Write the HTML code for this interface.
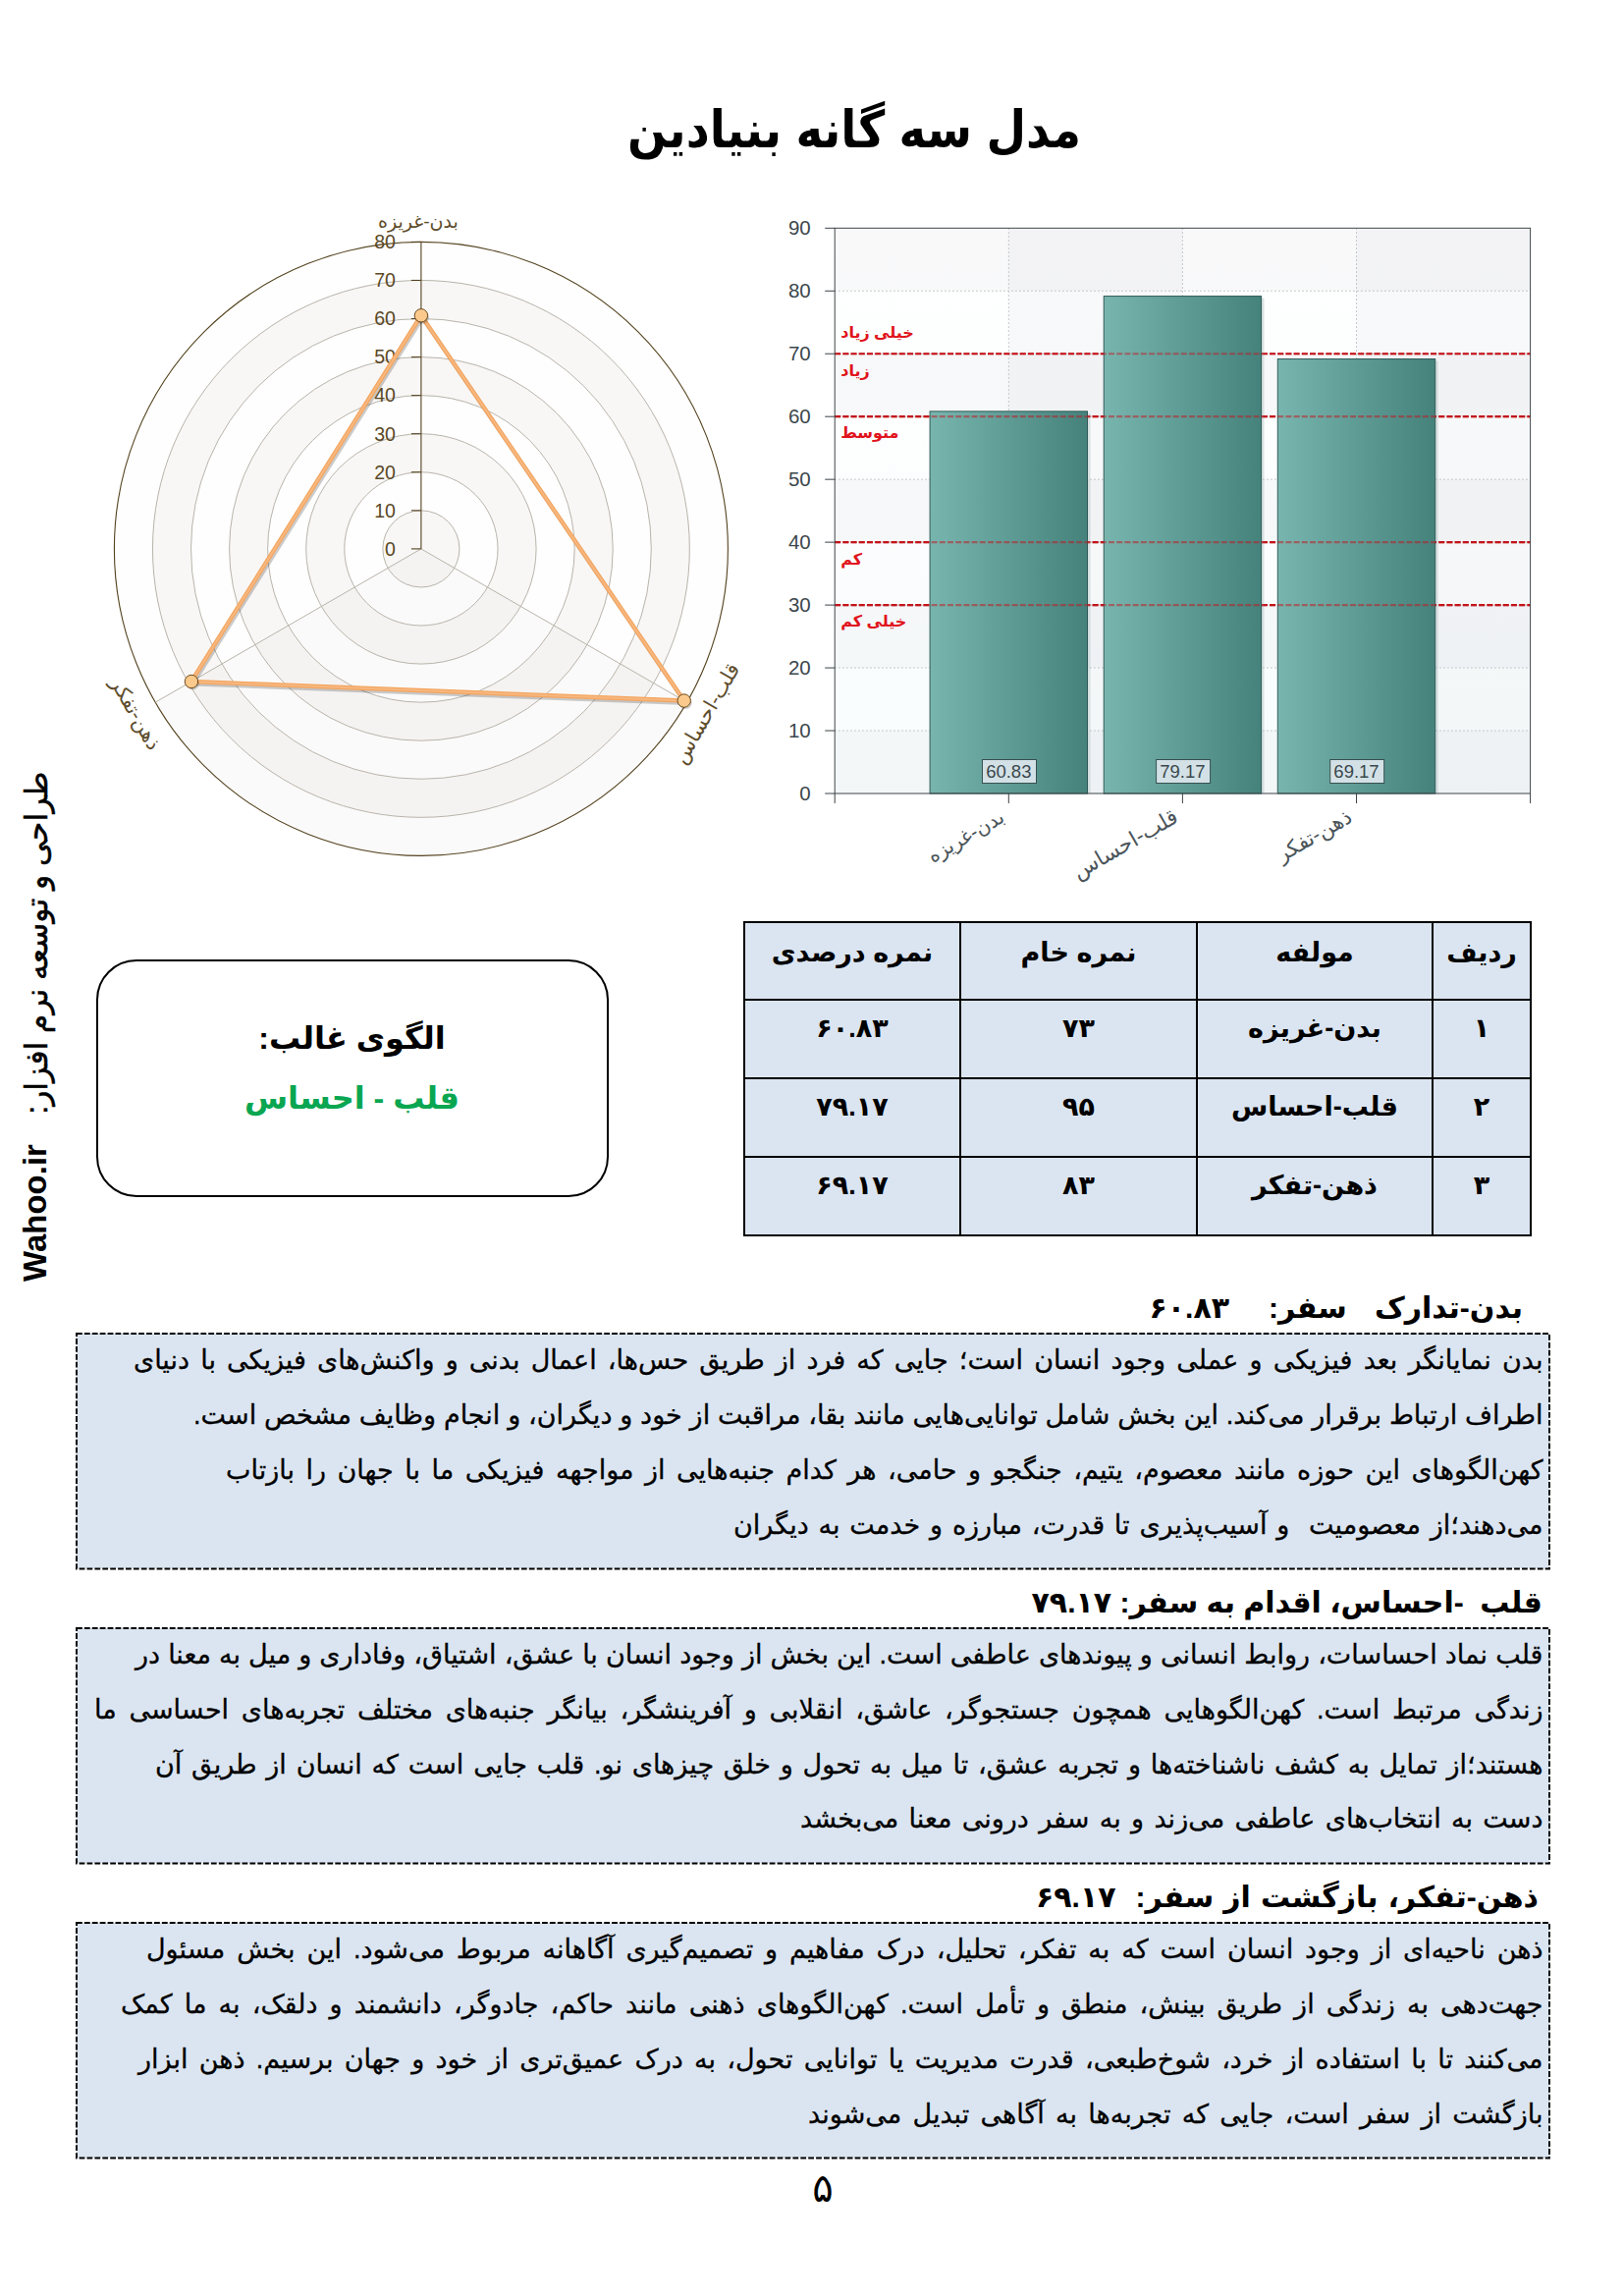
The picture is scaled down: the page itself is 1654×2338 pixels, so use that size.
<!DOCTYPE html><html lang="fa"><head><meta charset="utf-8"><title>مدل سه گانه بنیادین</title><style>
*{margin:0;padding:0;box-sizing:border-box}
html,body{width:1654px;height:2338px;background:#fff;overflow:hidden}
body{position:relative;font-family:"Liberation Sans","DejaVu Sans",sans-serif;color:#000}
.abs{position:absolute}
.title{left:0;width:1740px;top:92px;text-align:center;font-weight:bold;font-size:52px;font-stretch:condensed;line-height:80px;direction:rtl;white-space:nowrap}
svg{position:absolute;left:0;top:0;overflow:visible}
.tbl{position:absolute;left:757px;top:938px;width:803px;border-collapse:collapse;direction:rtl;table-layout:fixed}
.tbl td{border:2px solid #000;background:#dbe5f1;text-align:center;vertical-align:middle;font-weight:bold;font-size:27px;white-space:nowrap;padding:0 0 17px 0}
.tbl tr.d td{padding-bottom:23px;height:80px}
.tbl tr.h td{height:79px}
.rbox{left:97.5px;top:977px;width:522px;height:242px;border:2px solid #000;border-radius:41px;background:#fff;text-align:center;direction:rtl;font-weight:bold}
.rbox .l1{position:absolute;left:0;right:0;top:53px;font-size:32px;line-height:50px}
.rbox .l2{position:absolute;left:0;right:0;top:114px;font-size:32px;line-height:50px;color:#0aa651}
.vert{left:38px;top:1048px;width:0;height:0}
.vert span{position:absolute;white-space:nowrap;direction:rtl;transform-origin:0 0;transform:translate(-50%,-50%) rotate(-90deg)}
.vt{display:block;position:absolute;left:0;top:0;white-space:nowrap;direction:rtl;font-weight:bold;transform:translate(-50%,-50%) rotate(-90deg)}
.sec{left:78px;width:1500px;height:239.5px;background:#dbe5f1}
.sec svg{left:-2px;top:-2px}
.ln{position:absolute;right:4px;direction:rtl;white-space:nowrap;font-size:27px;line-height:54px;height:54px;text-align:justify;text-align-last:justify;-webkit-text-stroke:0.3px #000}
.ln.last{text-align:right;text-align-last:right}
.hd{position:absolute;direction:rtl;white-space:nowrap;font-weight:bold;font-size:30px;line-height:50px;height:50px;text-align:justify;text-align-last:justify}
.pn{left:818px;width:40px;top:2203px;text-align:center;font-size:40px;line-height:50px}
</style></head><body>
<div class="abs title">مدل سه گانه بنیادین</div>
<svg width="1654" height="2338" viewBox="0 0 1654 2338">
<defs>
<linearGradient id="bar" x1="0" y1="0" x2="1" y2="0"><stop offset="0" stop-color="#79b5af"/><stop offset="1" stop-color="#45827c"/></linearGradient>
<linearGradient id="pbg" x1="0" y1="0" x2="0" y2="1"><stop offset="0" stop-color="#bfe3e8" stop-opacity="0"/><stop offset="1" stop-color="#bfe3e8" stop-opacity="0.10"/></linearGradient>
<clipPath id="rc"><circle cx="428.9" cy="558.9" r="312.5"/></clipPath>
</defs>
<g>
<circle cx="428.9" cy="558.9" r="312.5" fill="#fefefe"/>
<circle cx="428.9" cy="558.9" r="312.50" fill="#fefefe"/>
<circle cx="428.9" cy="558.9" r="273.44" fill="#f8f7f6"/>
<circle cx="428.9" cy="558.9" r="234.38" fill="#fefefe"/>
<circle cx="428.9" cy="558.9" r="195.31" fill="#f8f7f6"/>
<circle cx="428.9" cy="558.9" r="156.25" fill="#fefefe"/>
<circle cx="428.9" cy="558.9" r="117.19" fill="#f8f7f6"/>
<circle cx="428.9" cy="558.9" r="78.12" fill="#fefefe"/>
<circle cx="428.9" cy="558.9" r="39.06" fill="#f8f7f6"/>
<path d="M428.9,558.9 L699.53,715.15 A312.5,312.5 0 0 1 158.27,715.15 Z" fill="#8a7a60" fill-opacity="0.028"/>
<circle cx="428.9" cy="558.9" r="39.06" fill="none" stroke="#b9b4aa" stroke-width="1"/>
<circle cx="428.9" cy="558.9" r="78.12" fill="none" stroke="#b9b4aa" stroke-width="1"/>
<circle cx="428.9" cy="558.9" r="117.19" fill="none" stroke="#b9b4aa" stroke-width="1"/>
<circle cx="428.9" cy="558.9" r="156.25" fill="none" stroke="#b9b4aa" stroke-width="1"/>
<circle cx="428.9" cy="558.9" r="195.31" fill="none" stroke="#b9b4aa" stroke-width="1"/>
<circle cx="428.9" cy="558.9" r="234.38" fill="none" stroke="#b9b4aa" stroke-width="1"/>
<circle cx="428.9" cy="558.9" r="273.44" fill="none" stroke="#b9b4aa" stroke-width="1"/>
<circle cx="428.9" cy="558.9" r="312.5" fill="none" stroke="#54431f" stroke-width="1.1"/>
<line x1="428.9" y1="558.9" x2="699.53" y2="715.15" stroke="#b9b4aa" stroke-width="1"/>
<line x1="428.9" y1="558.9" x2="158.27" y2="715.15" stroke="#b9b4aa" stroke-width="1"/>
<line x1="428.9" y1="558.9" x2="428.9" y2="246.39999999999998" stroke="#54431f" stroke-width="1.1"/>
<line x1="418.9" y1="558.90" x2="428.9" y2="558.90" stroke="#54431f" stroke-width="1.1"/>
<text x="402.9" y="565.70" text-anchor="end" font-size="19.5" fill="#5a4826" font-family='"Liberation Sans",sans-serif'>0</text>
<line x1="418.9" y1="519.84" x2="428.9" y2="519.84" stroke="#54431f" stroke-width="1.1"/>
<text x="402.9" y="526.64" text-anchor="end" font-size="19.5" fill="#5a4826" font-family='"Liberation Sans",sans-serif'>10</text>
<line x1="418.9" y1="480.77" x2="428.9" y2="480.77" stroke="#54431f" stroke-width="1.1"/>
<text x="402.9" y="487.57" text-anchor="end" font-size="19.5" fill="#5a4826" font-family='"Liberation Sans",sans-serif'>20</text>
<line x1="418.9" y1="441.71" x2="428.9" y2="441.71" stroke="#54431f" stroke-width="1.1"/>
<text x="402.9" y="448.51" text-anchor="end" font-size="19.5" fill="#5a4826" font-family='"Liberation Sans",sans-serif'>30</text>
<line x1="418.9" y1="402.65" x2="428.9" y2="402.65" stroke="#54431f" stroke-width="1.1"/>
<text x="402.9" y="409.45" text-anchor="end" font-size="19.5" fill="#5a4826" font-family='"Liberation Sans",sans-serif'>40</text>
<line x1="418.9" y1="363.59" x2="428.9" y2="363.59" stroke="#54431f" stroke-width="1.1"/>
<text x="402.9" y="370.39" text-anchor="end" font-size="19.5" fill="#5a4826" font-family='"Liberation Sans",sans-serif'>50</text>
<line x1="418.9" y1="324.52" x2="428.9" y2="324.52" stroke="#54431f" stroke-width="1.1"/>
<text x="402.9" y="331.32" text-anchor="end" font-size="19.5" fill="#5a4826" font-family='"Liberation Sans",sans-serif'>60</text>
<line x1="418.9" y1="285.46" x2="428.9" y2="285.46" stroke="#54431f" stroke-width="1.1"/>
<text x="402.9" y="292.26" text-anchor="end" font-size="19.5" fill="#5a4826" font-family='"Liberation Sans",sans-serif'>70</text>
<line x1="418.9" y1="246.40" x2="428.9" y2="246.40" stroke="#54431f" stroke-width="1.1"/>
<text x="402.9" y="253.20" text-anchor="end" font-size="19.5" fill="#5a4826" font-family='"Liberation Sans",sans-serif'>80</text>
<polygon points="428.90,321.28 696.73,713.53 194.90,694.00" fill="none" stroke="#000" stroke-opacity="0.2" stroke-width="4" stroke-linejoin="round" transform="translate(1.5,2.5)"/>
<polygon points="428.90,321.28 696.73,713.53 194.90,694.00" fill="none" stroke="#f3a661" stroke-width="4.4" stroke-linejoin="round"/>
<polygon points="428.90,321.28 696.73,713.53 194.90,694.00" fill="none" stroke="#f7b77f" stroke-width="2" stroke-linejoin="round"/>
<circle cx="430.40" cy="323.28" r="6.5" fill="#000" fill-opacity="0.18"/>
<circle cx="428.90" cy="321.28" r="6.7" fill="#fbc98b" stroke="#6b4a1e" stroke-width="1"/>
<circle cx="698.23" cy="715.53" r="6.5" fill="#000" fill-opacity="0.18"/>
<circle cx="696.73" cy="713.53" r="6.7" fill="#fbc98b" stroke="#6b4a1e" stroke-width="1"/>
<circle cx="196.40" cy="696.00" r="6.5" fill="#000" fill-opacity="0.18"/>
<circle cx="194.90" cy="694.00" r="6.7" fill="#fbc98b" stroke="#6b4a1e" stroke-width="1"/>
<text x="425.9" y="232" text-anchor="middle" font-size="19" fill="#5e4d2c" direction="rtl" font-family='"Liberation Sans","DejaVu Sans",sans-serif'>بدن-غریزه</text>
<text transform="translate(720.3,727.1) rotate(-60)" x="0" y="6" text-anchor="middle" font-size="21" fill="#5e4d2c" direction="rtl" font-family='"Liberation Sans","DejaVu Sans",sans-serif'>قلب-احساس</text>
<text transform="translate(137.5,727.2) rotate(60)" x="0" y="6" text-anchor="middle" font-size="20.5" fill="#5e4d2c" direction="rtl" font-family='"Liberation Sans","DejaVu Sans",sans-serif'>ذهن-تفکر</text>
</g>
<g>
<rect x="850.2" y="232.3" width="708.40" height="575.70" fill="#fff"/>
<rect x="850.2" y="744.03" width="708.40" height="63.97" fill="#5f7074" fill-opacity="0.038"/>
<rect x="850.2" y="616.10" width="708.40" height="63.97" fill="#5f7074" fill-opacity="0.038"/>
<rect x="850.2" y="488.17" width="708.40" height="63.97" fill="#5f7074" fill-opacity="0.038"/>
<rect x="850.2" y="360.23" width="708.40" height="63.97" fill="#5f7074" fill-opacity="0.038"/>
<rect x="850.2" y="232.30" width="708.40" height="63.97" fill="#5f7074" fill-opacity="0.038"/>
<rect x="1027.30" y="232.3" width="177.10" height="575.70" fill="#5f7074" fill-opacity="0.038"/>
<rect x="1381.50" y="232.3" width="177.10" height="575.70" fill="#5f7074" fill-opacity="0.038"/>
<rect x="850.2" y="232.3" width="708.40" height="575.70" fill="url(#pbg)"/>
<line x1="850.2" y1="744.03" x2="1558.6" y2="744.03" stroke="#b4b9bb" stroke-width="1" stroke-dasharray="1.5,2.5"/>
<line x1="850.2" y1="680.07" x2="1558.6" y2="680.07" stroke="#b4b9bb" stroke-width="1" stroke-dasharray="1.5,2.5"/>
<line x1="850.2" y1="616.10" x2="1558.6" y2="616.10" stroke="#b4b9bb" stroke-width="1" stroke-dasharray="1.5,2.5"/>
<line x1="850.2" y1="552.13" x2="1558.6" y2="552.13" stroke="#b4b9bb" stroke-width="1" stroke-dasharray="1.5,2.5"/>
<line x1="850.2" y1="488.17" x2="1558.6" y2="488.17" stroke="#b4b9bb" stroke-width="1" stroke-dasharray="1.5,2.5"/>
<line x1="850.2" y1="424.20" x2="1558.6" y2="424.20" stroke="#b4b9bb" stroke-width="1" stroke-dasharray="1.5,2.5"/>
<line x1="850.2" y1="360.23" x2="1558.6" y2="360.23" stroke="#b4b9bb" stroke-width="1" stroke-dasharray="1.5,2.5"/>
<line x1="850.2" y1="296.27" x2="1558.6" y2="296.27" stroke="#b4b9bb" stroke-width="1" stroke-dasharray="1.5,2.5"/>
<line x1="1027.30" y1="232.3" x2="1027.30" y2="808.0" stroke="#b4b9bb" stroke-width="1" stroke-dasharray="1.5,2.5"/>
<line x1="1204.40" y1="232.3" x2="1204.40" y2="808.0" stroke="#b4b9bb" stroke-width="1" stroke-dasharray="1.5,2.5"/>
<line x1="1381.50" y1="232.3" x2="1381.50" y2="808.0" stroke="#b4b9bb" stroke-width="1" stroke-dasharray="1.5,2.5"/>
<line x1="850.2" y1="360.23" x2="1558.6" y2="360.23" stroke="#c3141b" stroke-width="2.2" stroke-dasharray="6,2.2" stroke-opacity="1"/>
<line x1="850.2" y1="424.20" x2="1558.6" y2="424.20" stroke="#c3141b" stroke-width="2.2" stroke-dasharray="6,2.2" stroke-opacity="1"/>
<line x1="850.2" y1="552.13" x2="1558.6" y2="552.13" stroke="#c3141b" stroke-width="2.2" stroke-dasharray="6,2.2" stroke-opacity="1"/>
<line x1="850.2" y1="616.10" x2="1558.6" y2="616.10" stroke="#c3141b" stroke-width="2.2" stroke-dasharray="6,2.2" stroke-opacity="1"/>
<rect x="950.10" y="420.89" width="160.40" height="387.11" fill="#9fb5b5" fill-opacity="0.35"/>
<rect x="947.10" y="418.89" width="160.40" height="389.11" fill="url(#bar)" stroke="#2f5a57" stroke-width="1"/>
<rect x="1127.20" y="303.58" width="160.40" height="504.42" fill="#9fb5b5" fill-opacity="0.35"/>
<rect x="1124.20" y="301.58" width="160.40" height="506.42" fill="url(#bar)" stroke="#2f5a57" stroke-width="1"/>
<rect x="1304.30" y="367.54" width="160.40" height="440.46" fill="#9fb5b5" fill-opacity="0.35"/>
<rect x="1301.30" y="365.54" width="160.40" height="442.46" fill="url(#bar)" stroke="#2f5a57" stroke-width="1"/>
<line x1="850.2" y1="360.23" x2="1558.6" y2="360.23" stroke="#c3141b" stroke-width="2.2" stroke-dasharray="6,2.2" stroke-opacity="0.5"/>
<line x1="850.2" y1="424.20" x2="1558.6" y2="424.20" stroke="#c3141b" stroke-width="2.2" stroke-dasharray="6,2.2" stroke-opacity="0.5"/>
<line x1="850.2" y1="552.13" x2="1558.6" y2="552.13" stroke="#c3141b" stroke-width="2.2" stroke-dasharray="6,2.2" stroke-opacity="0.5"/>
<line x1="850.2" y1="616.10" x2="1558.6" y2="616.10" stroke="#c3141b" stroke-width="2.2" stroke-dasharray="6,2.2" stroke-opacity="0.5"/>
<rect x="850.2" y="232.3" width="708.40" height="575.70" fill="none" stroke="#3f4548" stroke-width="1"/>
<line x1="840.2" y1="808.00" x2="850.2" y2="808.00" stroke="#3c4246" stroke-width="1"/>
<text x="825.7" y="814.50" text-anchor="end" font-size="20.5" fill="#3c474d" font-family='"Liberation Sans",sans-serif'>0</text>
<line x1="840.2" y1="744.03" x2="850.2" y2="744.03" stroke="#3c4246" stroke-width="1"/>
<text x="825.7" y="750.53" text-anchor="end" font-size="20.5" fill="#3c474d" font-family='"Liberation Sans",sans-serif'>10</text>
<line x1="840.2" y1="680.07" x2="850.2" y2="680.07" stroke="#3c4246" stroke-width="1"/>
<text x="825.7" y="686.57" text-anchor="end" font-size="20.5" fill="#3c474d" font-family='"Liberation Sans",sans-serif'>20</text>
<line x1="840.2" y1="616.10" x2="850.2" y2="616.10" stroke="#3c4246" stroke-width="1"/>
<text x="825.7" y="622.60" text-anchor="end" font-size="20.5" fill="#3c474d" font-family='"Liberation Sans",sans-serif'>30</text>
<line x1="840.2" y1="552.13" x2="850.2" y2="552.13" stroke="#3c4246" stroke-width="1"/>
<text x="825.7" y="558.63" text-anchor="end" font-size="20.5" fill="#3c474d" font-family='"Liberation Sans",sans-serif'>40</text>
<line x1="840.2" y1="488.17" x2="850.2" y2="488.17" stroke="#3c4246" stroke-width="1"/>
<text x="825.7" y="494.67" text-anchor="end" font-size="20.5" fill="#3c474d" font-family='"Liberation Sans",sans-serif'>50</text>
<line x1="840.2" y1="424.20" x2="850.2" y2="424.20" stroke="#3c4246" stroke-width="1"/>
<text x="825.7" y="430.70" text-anchor="end" font-size="20.5" fill="#3c474d" font-family='"Liberation Sans",sans-serif'>60</text>
<line x1="840.2" y1="360.23" x2="850.2" y2="360.23" stroke="#3c4246" stroke-width="1"/>
<text x="825.7" y="366.73" text-anchor="end" font-size="20.5" fill="#3c474d" font-family='"Liberation Sans",sans-serif'>70</text>
<line x1="840.2" y1="296.27" x2="850.2" y2="296.27" stroke="#3c4246" stroke-width="1"/>
<text x="825.7" y="302.77" text-anchor="end" font-size="20.5" fill="#3c474d" font-family='"Liberation Sans",sans-serif'>80</text>
<line x1="840.2" y1="232.30" x2="850.2" y2="232.30" stroke="#3c4246" stroke-width="1"/>
<text x="825.7" y="238.80" text-anchor="end" font-size="20.5" fill="#3c474d" font-family='"Liberation Sans",sans-serif'>90</text>
<line x1="850.20" y1="808.0" x2="850.20" y2="818.0" stroke="#3c4246" stroke-width="1"/>
<line x1="1027.30" y1="808.0" x2="1027.30" y2="818.0" stroke="#3c4246" stroke-width="1"/>
<line x1="1204.40" y1="808.0" x2="1204.40" y2="818.0" stroke="#3c4246" stroke-width="1"/>
<line x1="1381.50" y1="808.0" x2="1381.50" y2="818.0" stroke="#3c4246" stroke-width="1"/>
<line x1="1558.60" y1="808.0" x2="1558.60" y2="818.0" stroke="#3c4246" stroke-width="1"/>
<text x="856.2" y="344.23" text-anchor="end" direction="rtl" font-size="16" font-weight="bold" fill="#e0141c" font-family='"Liberation Sans","DejaVu Sans",sans-serif'>خیلی زیاد</text>
<text x="856.2" y="383.23" text-anchor="end" direction="rtl" font-size="16" font-weight="bold" fill="#e0141c" font-family='"Liberation Sans","DejaVu Sans",sans-serif'>زیاد</text>
<text x="856.2" y="446.20" text-anchor="end" direction="rtl" font-size="16" font-weight="bold" fill="#e0141c" font-family='"Liberation Sans","DejaVu Sans",sans-serif'>متوسط</text>
<text x="856.2" y="575.13" text-anchor="end" direction="rtl" font-size="16" font-weight="bold" fill="#e0141c" font-family='"Liberation Sans","DejaVu Sans",sans-serif'>کم</text>
<text x="856.2" y="638.10" text-anchor="end" direction="rtl" font-size="16" font-weight="bold" fill="#e0141c" font-family='"Liberation Sans","DejaVu Sans",sans-serif'>خیلی کم</text>
<rect x="1000.50" y="773.5" width="55" height="24" fill="#d3e1e6" stroke="#37504f" stroke-width="1"/>
<text x="1027.30" y="792" text-anchor="middle" font-size="18.5" fill="#3a484d" font-family='"Liberation Sans",sans-serif'>60.83</text>
<rect x="1177.60" y="773.5" width="55" height="24" fill="#d3e1e6" stroke="#37504f" stroke-width="1"/>
<text x="1204.40" y="792" text-anchor="middle" font-size="18.5" fill="#3a484d" font-family='"Liberation Sans",sans-serif'>79.17</text>
<rect x="1354.70" y="773.5" width="55" height="24" fill="#d3e1e6" stroke="#37504f" stroke-width="1"/>
<text x="1381.50" y="792" text-anchor="middle" font-size="18.5" fill="#3a484d" font-family='"Liberation Sans",sans-serif'>69.17</text>
<text transform="translate(1024.30,836.0) rotate(-30)" x="0" y="0" text-anchor="start" direction="rtl" font-size="20" fill="#4b555a" font-family='"Liberation Sans","DejaVu Sans",sans-serif'>بدن-غریزه</text>
<text transform="translate(1201.40,836.0) rotate(-30)" x="0" y="0" text-anchor="start" direction="rtl" font-size="22" fill="#4b555a" font-family='"Liberation Sans","DejaVu Sans",sans-serif'>قلب-احساس</text>
<text transform="translate(1378.50,836.0) rotate(-30)" x="0" y="0" text-anchor="start" direction="rtl" font-size="21.3" fill="#4b555a" font-family='"Liberation Sans","DejaVu Sans",sans-serif'>ذهن-تفکر</text>
</g>
</svg>
<table class="tbl"><colgroup><col style="width:100px"><col style="width:240px"><col style="width:241px"><col style="width:220px"></colgroup><tr class="h"><td>ردیف</td><td>مولفه</td><td>نمره خام</td><td>نمره درصدی</td></tr><tr class="d"><td>۱</td><td>بدن-غریزه</td><td>۷۳</td><td>۶۰.۸۳</td></tr><tr class="d"><td>۲</td><td>قلب-احساس</td><td>۹۵</td><td>۷۹.۱۷</td></tr><tr class="d"><td>۳</td><td>ذهن-تفکر</td><td>۸۳</td><td>۶۹.۱۷</td></tr></table>
<div class="abs rbox"><div class="l1">الگوی غالب:</div><div class="l2">قلب - احساس</div></div>
<div class="abs" style="left:36.5px;top:960px;width:0;height:0"><span class="vt" style="font-size:31.4px;font-weight:normal;-webkit-text-stroke:0.5px #000">طراحی و توسعه نرم افزار:</span></div>
<div class="abs" style="left:36px;top:1235px;width:0;height:0"><span class="vt" style="font-size:33px;font-family:'Liberation Sans',sans-serif;direction:ltr">Wahoo.ir</span></div>
<div class="hd" style="right:103px;width:259px;top:1306.8px">بدن-تدارک سفر:</div>
<div class="hd" style="right:402px;width:81px;top:1306.8px">۶۰.۸۳</div>
<div class="abs sec" style="top:1357.8px"><svg width="1504" height="244" viewBox="-2 -2 1504 244"><rect x="0" y="0" width="1500" height="239.5" fill="none" stroke="#000" stroke-width="1.9" stroke-dasharray="5.8,2.1"/></svg>
<div class="ln" style="top:0.4px;right:6.5px;width:1435.5px;">بدن نمایانگر بعد فیزیکی و عملی وجود انسان است؛ جایی که فرد از طریق حس‌ها، اعمال بدنی و واکنش‌های فیزیکی با دنیای</div>
<div class="ln" style="top:56.2px;right:6.5px;width:1374.5px;">اطراف ارتباط برقرار می‌کند. این بخش شامل توانایی‌هایی مانند بقا، مراقبت از خود و دیگران، و انجام وظایف مشخص است.</div>
<div class="ln" style="top:112.0px;right:6.5px;width:1341.5px;">کهن‌الگوهای این حوزه مانند معصوم، یتیم، جنگجو و حامی، هر کدام جنبه‌هایی از مواجهه فیزیکی ما با جهان را بازتاب</div>
<div class="ln" style="top:167.8px;right:6.5px;width:824.5px;">می‌دهند؛از معصومیت&nbsp; و آسیب‌پذیری تا قدرت، مبارزه و خدمت به دیگران</div>
</div>
<div class="hd" style="right:83px;width:516px;top:1606.6px">قلب&nbsp; -احساس، اقدام به سفر: ۷۹.۱۷</div>
<div class="abs sec" style="top:1657.6px"><svg width="1504" height="244" viewBox="-2 -2 1504 244"><rect x="0" y="0" width="1500" height="239.5" fill="none" stroke="#000" stroke-width="1.9" stroke-dasharray="5.8,2.1"/></svg>
<div class="ln" style="top:0.4px;right:6.5px;width:1433.5px;">قلب نماد احساسات، روابط انسانی و پیوندهای عاطفی است. این بخش از وجود انسان با عشق، اشتیاق، وفاداری و میل به معنا در</div>
<div class="ln" style="top:56.2px;right:6.5px;width:1475.5px;">زندگی مرتبط است. کهن‌الگوهایی همچون جستجوگر، عاشق، انقلابی و آفرینشگر، بیانگر جنبه‌های مختلف تجربه‌های احساسی ما</div>
<div class="ln" style="top:112.0px;right:6.5px;width:1413.5px;">هستند؛از تمایل به کشف ناشناخته‌ها و تجربه عشق، تا میل به تحول و خلق چیزهای نو. قلب جایی است که انسان از طریق آن</div>
<div class="ln" style="top:167.8px;right:6.5px;width:756.5px;">دست به انتخاب‌های عاطفی می‌زند و به سفر درونی معنا می‌بخشد</div>
</div>
<div class="hd" style="right:87px;width:512px;top:1906.8px">ذهن-تفکر، بازگشت از سفر:&nbsp; ۶۹.۱۷</div>
<div class="abs sec" style="top:1957.8px"><svg width="1504" height="244" viewBox="-2 -2 1504 244"><rect x="0" y="0" width="1500" height="239.5" fill="none" stroke="#000" stroke-width="1.9" stroke-dasharray="5.8,2.1"/></svg>
<div class="ln" style="top:0.4px;right:6.5px;width:1422.5px;">ذهن ناحیه‌ای از وجود انسان است که به تفکر، تحلیل، درک مفاهیم و تصمیم‌گیری آگاهانه مربوط می‌شود. این بخش مسئول</div>
<div class="ln" style="top:56.2px;right:6.5px;width:1448.5px;">جهت‌دهی به زندگی از طریق بینش، منطق و تأمل است. کهن‌الگوهای ذهنی مانند حاکم، جادوگر، دانشمند و دلقک، به ما کمک</div>
<div class="ln" style="top:112.0px;right:6.5px;width:1430.5px;">می‌کنند تا با استفاده از خرد، شوخ‌طبعی، قدرت مدیریت یا توانایی تحول، به درک عمیق‌تری از خود و جهان برسیم. ذهن ابزار</div>
<div class="ln" style="top:167.8px;right:6.5px;width:748.5px;">بازگشت از سفر است، جایی که تجربه‌ها به آگاهی تبدیل می‌شوند</div>
</div>
<div class="abs pn">۵</div>
</body></html>
